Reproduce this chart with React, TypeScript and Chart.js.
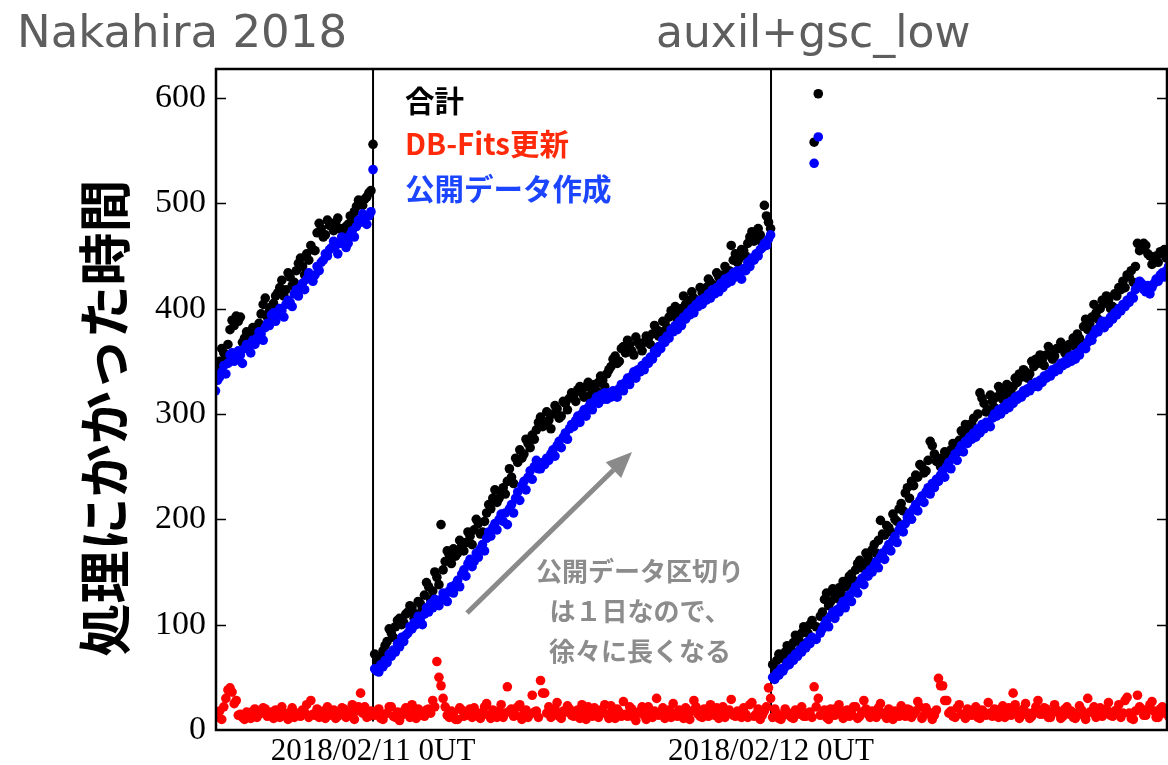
import React, { useEffect, useRef } from 'react';
import { Chart, registerables } from 'chart.js';

Chart.register(...registerables);

// Sampling: hours relative to 2018/02/11 0UT, one sample every 7.5 minutes
const SAMPLE_STEP_H = 0.125;
const segmentStartHours = [-9.5, 0.1, 24.1];

// 合計 (total) per segment
const totalSeg1 = [
  338, 345, 350, 362, 358, 352, 366, 380, 389, 384,
  393, 388, 392, 368, 372, 378, 375, 366, 382, 376,
  370, 386, 395, 404, 410, 392, 398, 402, 405, 412,
  415, 420, 427, 412, 418, 434, 430, 422, 425, 436,
  443, 448, 440, 432, 452, 446, 460, 456, 455, 472,
  481, 476, 468, 470, 484, 479, 478, 474, 482, 486,
  476, 468, 470, 478, 480, 488, 485, 492, 497, 503,
  500, 498, 504, 506, 510, 512, 556,
];
const totalSeg2 = [
  72, 64, 66, 70, 75, 80, 84, 96, 92, 88, 98, 104, 106, 100, 102, 110,
  112, 118, 116, 106, 110, 122, 120, 115, 128, 140, 136, 124, 132, 150, 145, 138,
  195, 152, 160, 170, 166, 158, 172, 165, 168, 180, 175, 170, 178, 188, 184, 176,
  190, 200, 196, 186, 188, 198, 206, 214, 210, 220, 228, 216, 220, 226, 230, 224,
  236, 248, 240, 234, 258, 254, 266, 258, 262, 276, 272, 268, 280, 276, 285, 292,
  297, 288, 290, 302, 294, 286, 300, 308, 305, 296, 298, 312, 310, 304, 315, 320,
  318, 312, 323, 326, 320, 316, 326, 330, 318, 324, 328, 322, 330, 336, 332, 326,
  338, 342, 345, 352, 355, 348, 350, 362, 364, 358, 370, 366, 360, 356, 373, 368,
  365, 360, 368, 374, 372, 366, 376, 384, 380, 374, 378, 388, 387, 382, 392, 398,
  396, 402, 390, 398, 400, 412, 404, 398, 408, 416, 410, 404, 406, 420, 415, 412,
  420, 428, 425, 418, 422, 434, 430, 426, 432, 440, 428, 436, 460, 446, 452, 444,
  448, 456, 455, 450, 462, 468, 473, 464, 466, 476, 470, 462, 498, 488, 482, 476,
];
const totalSeg3 = [
  62, 58, 66, 72, 70, 68, 74, 80, 78, 76, 83, 90, 88, 84, 92, 98,
  96, 92, 100, 104, 558, 98, 604, 108, 112, 124, 130, 118, 122, 134, 128, 125,
  135, 130, 141, 136, 138, 146, 148, 142, 152, 158, 161, 154, 158, 168, 165, 160,
  171, 176, 168, 180, 199, 186, 185, 194, 192, 188, 205, 200, 198, 210, 215, 208,
  225, 230, 220, 236, 232, 242, 240, 252, 250, 244, 246, 256, 274, 270, 262, 255,
  258, 250, 256, 264, 262, 258, 266, 272, 270, 264, 275, 284, 282, 290, 278, 286,
  291, 296, 285, 300, 320, 315, 310, 302, 304, 318, 312, 306, 316, 326, 322, 314,
  318, 328, 325, 320, 326, 334, 330, 338, 335, 342, 340, 334, 338, 350, 345, 352,
  348, 356, 351, 346, 356, 364, 360, 352, 355, 362, 362, 368, 364, 358, 360, 366,
  366, 372, 364, 376, 372, 368, 383, 390, 380, 386, 392, 404, 396, 390, 400, 408,
  405, 412, 408, 400, 402, 414, 412, 420, 418, 426, 420, 432, 430, 436, 425, 440,
  462, 455, 458, 462, 460, 452, 450, 442, 446, 450, 444, 454, 452, 456, 448, 450,
];

// 公開データ作成 (public data creation) per segment
const publicSeg1 = [
  322, 332, 335, 340, 346, 338, 348, 356, 358, 350,
  354, 360, 356, 348, 362, 366, 364, 358, 370, 366,
  372, 378, 376, 370, 382, 386, 384, 394, 396, 388,
  394, 400, 398, 392, 404, 408, 406, 402, 414, 418,
  412, 420, 424, 418, 428, 434, 430, 426, 432, 440,
  436, 444, 446, 452, 450, 456, 458, 464, 460, 452,
  462, 468, 466, 458, 462, 470, 474, 468, 478, 484,
  482, 490, 486, 480, 488, 492, 532,
];
const publicSeg2 = [
  58, 56, 55, 62, 60, 66, 64, 72, 70, 76, 74, 82, 79, 88, 84, 90,
  92, 98, 96, 102, 100, 108, 104, 100, 110, 116, 112, 120, 116, 124, 122, 118,
  124, 130, 128, 122, 132, 136, 130, 138, 142, 136, 148, 152, 146, 158, 162, 155,
  160, 168, 164, 172, 176, 170, 182, 188, 184, 192, 196, 190, 200, 205, 198, 206,
  195, 210, 214, 206, 220, 226, 218, 232, 236, 228, 240, 246, 238, 250, 256, 248,
  248, 254, 252, 258, 256, 262, 266, 260, 270, 274, 268, 278, 282, 276, 286, 290,
  288, 294, 298, 292, 300, 304, 298, 306, 310, 304, 312, 316, 310, 318, 314, 320,
  314, 320, 316, 322, 320, 316, 324, 328, 322, 330, 334, 328, 336, 340, 334, 342,
  340, 346, 342, 350, 348, 354, 352, 360, 358, 364, 362, 370, 368, 374, 372, 380,
  378, 384, 380, 388, 384, 392, 390, 396, 394, 400, 396, 404, 402, 408, 404, 410,
  408, 414, 410, 418, 414, 420, 416, 424, 420, 428, 424, 430, 426, 434, 430, 436,
  432, 428, 438, 436, 444, 440, 448, 446, 452, 450, 456, 458, 462, 460, 466, 470,
];
const publicSeg3 = [
  50, 48, 54, 52, 58, 56, 60, 64, 62, 68, 66, 72, 70, 76, 74, 80,
  78, 84, 82, 88, 538, 86, 563, 92, 96, 100, 104, 98, 108, 112, 106, 114,
  112, 118, 122, 116, 124, 128, 122, 132, 136, 130, 140, 144, 138, 148, 146, 152,
  150, 156, 160, 154, 164, 168, 162, 172, 176, 170, 180, 184, 178, 190, 194, 188,
  196, 202, 206, 200, 210, 214, 208, 218, 222, 216, 226, 230, 224, 234, 230, 238,
  236, 242, 246, 240, 250, 254, 248, 258, 262, 256, 266, 270, 264, 274, 272, 278,
  276, 282, 278, 286, 282, 290, 286, 292, 290, 288, 296, 300, 298, 304, 300, 306,
  304, 310, 306, 312, 310, 316, 314, 318, 316, 322, 320, 324, 322, 328, 326, 330,
  326, 332, 330, 336, 334, 338, 336, 342, 340, 344, 342, 348, 346, 350, 348, 354,
  350, 356, 352, 358, 356, 362, 364, 362, 368, 372, 370, 376, 380, 378, 384, 388,
  382, 388, 386, 392, 390, 396, 394, 400, 398, 404, 402, 408, 406, 412, 410, 418,
  421, 426, 424, 418, 416, 422, 414, 420, 424, 428, 426, 432, 434, 430, 436, 440,
];

// DB-Fits更新 per segment
const dbFitsSeg1 = [
  12, 16, 18, 10, 22, 30, 38, 40, 36, 25,
  28, 14, 15, 12, 10, 17, 14, 11, 18, 20,
  12, 15, 16, 21, 20, 13, 14, 17, 11, 19,
  18, 12, 22, 16, 13, 10, 17, 21, 12, 16,
  15, 13, 19, 17, 24, 12, 28, 15, 14, 20,
  12, 16, 18, 11, 22, 14, 16, 19, 11, 13,
  15, 21, 20, 12, 14, 17, 24, 10, 18, 22,
  35, 16, 22, 12, 13, 18, 17,
];
const dbFitsSeg2 = [
  14, 18, 20, 11, 10, 15, 16, 22, 22, 13, 12, 17, 9, 14, 18, 21,
  15, 12, 24, 17, 11, 20, 17, 14, 13, 19, 20, 16, 28, 22, 65, 50,
  42, 30, 22, 14, 12, 18, 16, 10, 10, 21, 19, 13, 14, 17, 20, 12,
  21, 16, 13, 11, 17, 22, 25, 14, 11, 19, 15, 12, 18, 24, 12, 16,
  41, 18, 20, 13, 14, 22, 24, 10, 16, 19, 12, 15, 33, 17, 18, 12,
  47, 35, 35, 16, 22, 12, 14, 20, 26, 13, 11, 18, 17, 23, 20, 14,
  13, 16, 19, 11, 24, 18, 10, 22, 16, 13, 21, 15, 12, 19, 18, 24,
  15, 11, 23, 17, 11, 20, 17, 13, 27, 15, 13, 22, 20, 12, 9, 16,
  18, 22, 14, 10, 22, 15, 12, 18, 30, 14, 16, 21, 11, 17, 19, 12,
  25, 16, 13, 19, 17, 11, 21, 14, 10, 18, 28, 22, 15, 13, 12, 20,
  19, 13, 24, 17, 14, 21, 11, 15, 22, 12, 16, 19, 29, 14, 13, 18,
  17, 12, 21, 15, 12, 24, 26, 13, 15, 20, 10, 14, 18, 22, 40, 30,
];
const dbFitsSeg3 = [
  12, 20, 16, 11, 10, 14, 20, 17, 14, 12, 11, 19, 18, 15, 22, 13,
  13, 16, 17, 12, 41, 22, 30, 14, 15, 19, 12, 10, 20, 16, 14, 21,
  24, 15, 11, 18, 19, 13, 16, 22, 22, 11, 13, 17, 28, 20, 15, 12,
  18, 14, 12, 21, 25, 16, 14, 11, 20, 15, 10, 18, 17, 13, 23, 16,
  13, 20, 19, 12, 15, 18, 27, 22, 11, 14, 21, 17, 16, 10, 14, 19,
  49, 42, 42, 28, 28, 16, 18, 13, 12, 21, 24, 15, 15, 11, 20, 17,
  14, 18, 22, 12, 11, 19, 17, 14, 26, 16, 13, 20, 19, 12, 16, 23,
  12, 17, 21, 14, 35, 24, 18, 11, 14, 20, 25, 16, 11, 13, 17, 22,
  28, 15, 15, 21, 20, 12, 12, 17, 24, 19, 16, 11, 13, 20, 22, 15,
  18, 12, 11, 16, 23, 19, 14, 10, 30, 17, 17, 22, 12, 15, 21, 13,
  15, 20, 26, 14, 13, 18, 19, 24, 12, 16, 28, 31, 16, 11, 10, 18,
  33, 22, 20, 14, 14, 19, 24, 27, 18, 12, 12, 20, 22, 16, 16, 13,
];

// Axis definitions
const xMin = -9.47;
const xMax = 47.88;
const yMin = 0;
const yMax = 627.5;
const xTickValues = [0, 24];
const xTickLabels = ['2018/02/11 0UT', '2018/02/12 0UT'];
const yTickValues = [0, 100, 200, 300, 400, 500, 600];
const dayBoundaryHours = [0, 24];
const dayLineBottom = 8;

const seriesNames = ['合計', 'DB-Fits更新', '公開データ作成'];
const seriesColors = ['#000000', '#ff0000', '#0000ff'];
const legendTextColors = ['#000000', '#ff2a0a', '#1c45ff'];
const yAxisTitle = '処理にかかった時間';
const headerLeft = 'Nakahira 2018';
const headerRight = 'auxil+gsc_low';
const noteLines = ['公開データ区切り', 'は１日なので、', '徐々に長くなる'];
// arrow annotation in data coordinates (hours, seconds)
const arrowFrom = { x: 5.67, y: 111 };
const arrowTo = { x: 15.62, y: 264 };

function toPoints(segments: number[][]) {
  const pts: { x: number; y: number }[] = [];
  segments.forEach((vals, s) => {
    vals.forEach((v, i) => {
      pts.push({ x: segmentStartHours[s] + i * SAMPLE_STEP_H, y: v });
    });
  });
  return pts;
}

const overlayPlugin = {
  id: 'overlay',
  afterDraw(chart: any) {
    const { ctx, chartArea: a, scales } = chart;
    ctx.save();
    // frame
    ctx.strokeStyle = '#000';
    ctx.lineWidth = 2.5;
    ctx.strokeRect(a.left, a.top, a.right - a.left, a.bottom - a.top);
    // inward ticks on left and right
    ctx.lineWidth = 1.5;
    yTickValues.forEach((v) => {
      if (v === 0) return;
      const y = Math.round(scales.y.getPixelForValue(v)) + 0.5;
      ctx.beginPath();
      ctx.moveTo(a.left, y);
      ctx.lineTo(a.left + 10, y);
      ctx.moveTo(a.right - 10, y);
      ctx.lineTo(a.right, y);
      ctx.stroke();
    });

    // headers
    ctx.fillStyle = '#5e5e5e';
    ctx.font = '45px "DejaVu Sans"';
    ctx.textAlign = 'left';
    ctx.textBaseline = 'alphabetic';
    ctx.fillText(headerLeft, 17, 47);
    ctx.font = '44px "DejaVu Sans"';
    ctx.fillText(headerRight, 656, 47);

    // y axis title
    ctx.save();
    ctx.translate(105, 418);
    ctx.rotate(-Math.PI / 2);
    ctx.fillStyle = '#000';
    ctx.font = 'bold 53px "Noto Sans CJK JP"';
    ctx.textAlign = 'center';
    ctx.textBaseline = 'middle';
    ctx.fillText(yAxisTitle, 0, 0);
    ctx.restore();

    // legend texts
    ctx.font = 'bold 29.5px "Noto Sans CJK JP"';
    ctx.textAlign = 'left';
    ctx.textBaseline = 'middle';
    const legendYs = [101, 144, 189];
    seriesNames.forEach((name, i) => {
      ctx.fillStyle = legendTextColors[i];
      ctx.fillText(name, 405, legendYs[i]);
    });

    // arrow
    const x1 = scales.x.getPixelForValue(arrowFrom.x);
    const y1 = scales.y.getPixelForValue(arrowFrom.y);
    const x2 = scales.x.getPixelForValue(arrowTo.x);
    const y2 = scales.y.getPixelForValue(arrowTo.y);
    const ang = Math.atan2(y2 - y1, x2 - x1);
    const headLen = 26;
    const headHalf = 11;
    const bx = x2 - headLen * Math.cos(ang);
    const by = y2 - headLen * Math.sin(ang);
    ctx.strokeStyle = '#8a8a8a';
    ctx.fillStyle = '#8a8a8a';
    ctx.lineWidth = 5;
    ctx.beginPath();
    ctx.moveTo(x1, y1);
    ctx.lineTo(bx, by);
    ctx.stroke();
    ctx.beginPath();
    ctx.moveTo(x2, y2);
    ctx.lineTo(bx + headHalf * Math.sin(ang), by - headHalf * Math.cos(ang));
    ctx.lineTo(bx - headHalf * Math.sin(ang), by + headHalf * Math.cos(ang));
    ctx.closePath();
    ctx.fill();

    // note text
    ctx.fillStyle = '#8c8c8c';
    ctx.font = 'bold 26px "Noto Sans CJK JP"';
    ctx.textAlign = 'center';
    ctx.textBaseline = 'middle';
    const noteYs = [571, 611, 651];
    noteLines.forEach((t, i) => ctx.fillText(t, 640, noteYs[i]));
    ctx.restore();
  },
};

export default function App() {
  const ref = useRef<HTMLCanvasElement | null>(null);
  useEffect(() => {
    if (!ref.current) return;
    const total = toPoints([totalSeg1, totalSeg2, totalSeg3]);
    const dbFits = toPoints([dbFitsSeg1, dbFitsSeg2, dbFitsSeg3]);
    const pub = toPoints([publicSeg1, publicSeg2, publicSeg3]);
    const pointStyle = (color: string) => ({
      backgroundColor: color,
      borderColor: color,
      pointRadius: 4.8,
      pointBorderWidth: 0,
      showLine: false,
      clip: 0,
    });
    const chart = new Chart(ref.current, {
      type: 'scatter',
      data: {
        datasets: [
          { label: seriesNames[2], data: pub, ...pointStyle(seriesColors[2]) },
          { label: seriesNames[1], data: dbFits, ...pointStyle(seriesColors[1]) },
          { label: seriesNames[0], data: total, ...pointStyle(seriesColors[0]) },
          ...dayBoundaryHours.map((h) => ({
            type: 'line' as const,
            label: 'day',
            data: [
              { x: h, y: dayLineBottom },
              { x: h, y: yMax },
            ],
            showLine: true,
            borderColor: '#000',
            borderWidth: 2,
            pointRadius: 0,
            clip: 0,
          })),
        ],
      },
      options: {
        animation: false,
        responsive: false,
        devicePixelRatio: 1,
        layout: { autoPadding: false, padding: { top: 69, right: 1, bottom: 0, left: 0 } },
        plugins: { legend: { display: false }, tooltip: { enabled: false } },
        scales: {
          x: {
            type: 'linear',
            min: xMin,
            max: xMax,
            grid: { display: false, drawTicks: false },
            border: { display: false },
            afterBuildTicks: (axis: any) => {
              axis.ticks = xTickValues.map((v) => ({ value: v }));
            },
            afterFit: (axis: any) => {
              axis.height = 35;
            },
            ticks: {
              autoSkip: false,
              maxRotation: 0,
              padding: 3,
              color: '#000',
              font: { family: '"Liberation Serif"', size: 31 },
              callback: (v: any) => {
                const i = xTickValues.indexOf(Number(v));
                return i >= 0 ? xTickLabels[i] : '';
              },
            },
          },
          y: {
            type: 'linear',
            min: yMin,
            max: yMax,
            grid: { display: false, drawTicks: false },
            border: { display: false },
            afterBuildTicks: (axis: any) => {
              axis.ticks = yTickValues.map((v) => ({ value: v }));
            },
            afterFit: (axis: any) => {
              axis.width = 216;
            },
            ticks: {
              padding: 10,
              color: '#000',
              font: { family: '"Liberation Serif"', size: 34 },
            },
          },
        },
      },
      plugins: [overlayPlugin],
    } as any);
    return () => chart.destroy();
  }, []);
  return (
    <div style={{ position: 'fixed', left: 0, top: 0, width: 1168, height: 765, background: '#fff' }}>
      <canvas ref={ref} width={1168} height={765} />
    </div>
  );
}
